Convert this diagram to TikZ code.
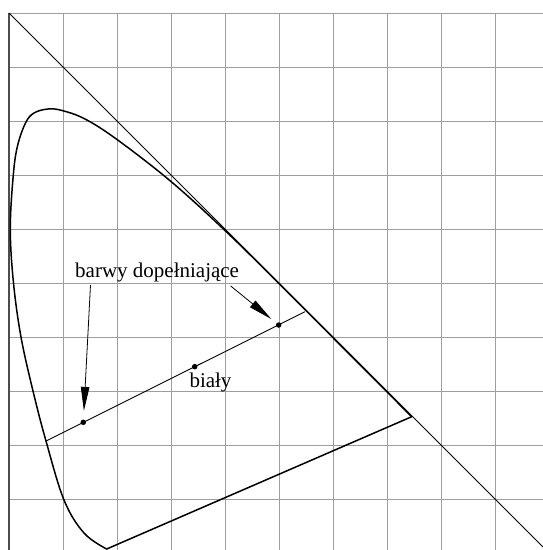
\documentclass[tikz,border=0pt]{standalone}
\usepackage{fontspec}
\setmainfont{Liberation Serif}
\usetikzlibrary{arrows.meta}
\begin{document}
\begin{tikzpicture}[x=1pt,y=-1pt,
  gridline/.style={draw=black!38, line width=0.9pt},
  axisline/.style={draw=black!70, line width=1.8pt},
  locus/.style={draw=black, line width=1.5pt, line join=round, line cap=round},
  thinline/.style={draw=black, line width=0.9pt},
  dotmark/.style={circle, fill=black, inner sep=0pt, minimum size=5.5pt},
  pointer/.style={draw=black, line width=0.8pt, -{Triangle[length=24pt,width=8.5pt]}},
  lbl/.style={font=\fontsize{21}{25}\selectfont, inner sep=0pt, anchor=base west}]
\useasboundingbox (0,0) rectangle (543,550);
% grid
\foreach \k in {1,...,9} \draw[gridline] ({9+54.1*\k},13) -- ({9+54.1*\k},550);
\foreach \k in {0,...,9} \draw[gridline] (9,{13+54.1*\k}) -- (543,{13+54.1*\k});
\draw[axisline] (9,13) -- (9,550);
% diagonal x+y=1
\coordinate (d1) at (9,13);
\coordinate (d2) at (543,547);
\draw[thinline] (d1) -- (d2);
% spectral locus
\coordinate (red) at (411.7,416.7);
\coordinate (violet) at (106.7,549);
\draw[locus] plot[smooth, tension=0.6] coordinates {
  (411.7,416.7) (280,284.6) (225,230.5) (171,181.5) (117,139.5)
  (85,119) (62,110.5) (48,109) (34,113) (25.5,123)
  (17.5,146) (13.3,175) (10.3,229) (13.5,283) (21,337) (33,391) (46,441)
  (64,500) (84,533) (106.7,549)};
\draw[locus] (violet) -- (red);
% complementary colours line
\coordinate (cL) at (46,441);
\coordinate (cR) at (305,311.7);
\draw[thinline] (cL) -- (cR);
\node[dotmark] (pL) at (83.3,422.3) {};
\node[dotmark] (pW) at (194.7,366.7) {};
\node[dotmark] (pR) at (278.7,325) {};
% labels
\node[lbl] (tC) at (75,277) {barwy dopełniające};
\node[lbl] (tW) at (189.3,387.3) {biały};
% arrows
\coordinate (aL) at (90.5,285);
\coordinate (aR) at (230.7,286);
\draw[pointer, shorten >=8.5pt] (aL) -- (pL);
\draw[pointer, shorten >=6.5pt] (aR) -- (pR);
\end{tikzpicture}
\end{document}
